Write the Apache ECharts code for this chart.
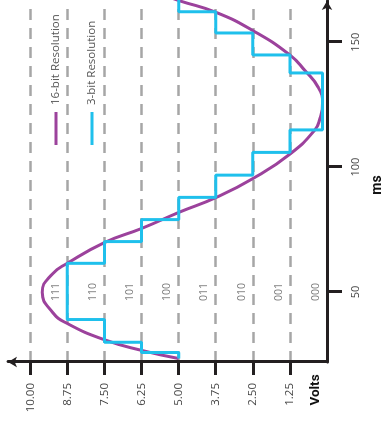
<!DOCTYPE html>
<html>
<head>
<meta charset="utf-8">
<script src="https://cdn.jsdelivr.net/npm/echarts@6/dist/echarts.min.js"></script>
<style>
html,body{margin:0;padding:0;background:#fff;overflow:hidden;width:381px;height:423px;}
#chart{position:absolute;left:0;top:0;width:423px;height:381px;transform-origin:0 0;transform:translate(0,423px) rotate(-90deg);background:#fff;}
</style>
</head>
<body>
<div id="chart"></div>
<script>
// Data (time in ms, value in volts)
const msTicks = [50, 100, 150];
const voltTicks = [1.25, 2.5, 3.75, 5, 6.25, 7.5, 8.75, 10];
const codeLabels = ['111', '110', '101', '100', '011', '010', '001', '000'];
const codeLevels = [8.75, 7.5, 6.25, 5, 3.75, 2.5, 1.25, 0];
const curveMs    = [23.4, 26.6, 30.9, 37.4, 41.9, 49.9, 57.3, 61.5, 69.8, 75.4, 81.9, 87.9, 95.4, 105.4, 114.9, 119.5, 125.5, 132.0, 138.6, 144.9, 154.6, 161.9, 166.6, 168];
const curveVolts = [5.0, 6.23, 7.5, 8.75, 9.25, 9.6, 9.25, 8.75, 7.5, 6.26, 4.99, 3.73, 2.5, 1.23, 0.41, 0.24, 0.15, 0.3, 0.74, 1.25, 2.49, 3.73, 4.97, 5.3];
const stepMs     = [23.4, 25.8, 29.9, 39.0, 61.5, 70.2, 79.0, 87.9, 96.8, 105.9, 114.9, 137.7, 144.9, 153.7, 162.2, 168];
const stepVolts  = [5.0, 6.25, 7.5, 8.75, 7.5, 6.25, 5.0, 3.75, 2.5, 1.25, 0.15, 1.25, 2.5, 3.75, 5.0, 5.0];
const seriesNames = ['16-bit Resolution', '3-bit Resolution'];

const FONT = 'Open Sans';
const AXIS_COLOR = '#231f20';
const chart = echarts.init(document.getElementById('chart'), null, {renderer: 'canvas'});

const curveData = curveMs.map((t, i) => [t, curveVolts[i]]);
const stepData = stepMs.map((t, i) => [t, stepVolts[i]]);
const codeData = codeLabels.map((c, i) => ({value: [50, codeLevels[i] + 0.38], name: c}));

chart.setOption({
  animation: false,
  backgroundColor: '#fff',
  grid: {left: 61, right: 1, top: 8, bottom: 54, containLabel: false, outerBoundsMode: 'none'},
  legend: {
    data: seriesNames,
    orient: 'vertical',
    left: 278,
    top: 50,
    padding: 0,
    itemGap: 24,
    itemWidth: 33,
    itemHeight: 3,
    icon: 'rect',
    textStyle: {fontFamily: FONT, fontSize: 11.5, color: '#555', padding: [0, 0, 0, 2]}
  },
  xAxis: {
    type: 'value',
    min: 22,
    max: 166.5,
    position: 'bottom',
    name: 'ms',
    nameLocation: 'middle',
    nameGap: 43,
    nameTextStyle: {fontFamily: 'Roboto', fontWeight: 'bold', fontSize: 14, color: '#111', padding: [0, 7, 0, 0]},
    axisLine: {show: true, onZero: false, symbol: ['none', 'arrow'], symbolSize: [8, 9], lineStyle: {color: AXIS_COLOR, width: 3}},
    axisTick: {show: true, customValues: msTicks, length: 15, lineStyle: {color: AXIS_COLOR, width: 3}},
    axisLabel: {customValues: msTicks, margin: 23, fontFamily: FONT, fontSize: 11, color: '#444'},
    splitLine: {show: false}
  },
  yAxis: {
    type: 'value',
    min: 0,
    max: 10.75,
    position: 'left',
    name: 'Volts',
    nameLocation: 'start',
    nameGap: -18.5,
    nameTextStyle: {fontFamily: 'Roboto', fontWeight: 'bold', fontSize: 13.5, color: '#111', padding: [0, 56, 0, 0]},
    axisLine: {show: true, onZero: false, symbol: ['none', 'arrow'], symbolSize: [8, 9], lineStyle: {color: AXIS_COLOR, width: 3}},
    axisTick: {show: true, customValues: voltTicks, length: 13, lineStyle: {color: AXIS_COLOR, width: 3}},
    axisLabel: {customValues: voltTicks, margin: 21, fontFamily: FONT, fontSize: 11.5, color: '#444',
      formatter: v => Number(v).toFixed(2)},
    splitLine: {show: true, lineStyle: {color: '#a6a6a6', width: 2.5, type: [11, 8]}}
  },
  series: [
    {
      name: seriesNames[0],
      type: 'line',
      data: curveData,
      smooth: 0.5,
      showSymbol: false,
      symbol: 'none',
      lineStyle: {color: '#9c429c', width: 3},
      itemStyle: {color: '#9c429c'},
      z: 3
    },
    {
      name: seriesNames[1],
      type: 'line',
      data: stepData,
      step: 'end',
      showSymbol: false,
      symbol: 'none',
      lineStyle: {color: '#1fc0ec', width: 3},
      itemStyle: {color: '#1fc0ec'},
      z: 4
    },
    {
      name: 'codes',
      type: 'scatter',
      data: codeData,
      symbolSize: 0,
      silent: true,
      label: {show: true, position: 'inside', formatter: p => p.name, fontFamily: FONT, fontSize: 10.5, color: '#555'},
      z: 5
    }
  ]
});
</script>
</body>
</html>
